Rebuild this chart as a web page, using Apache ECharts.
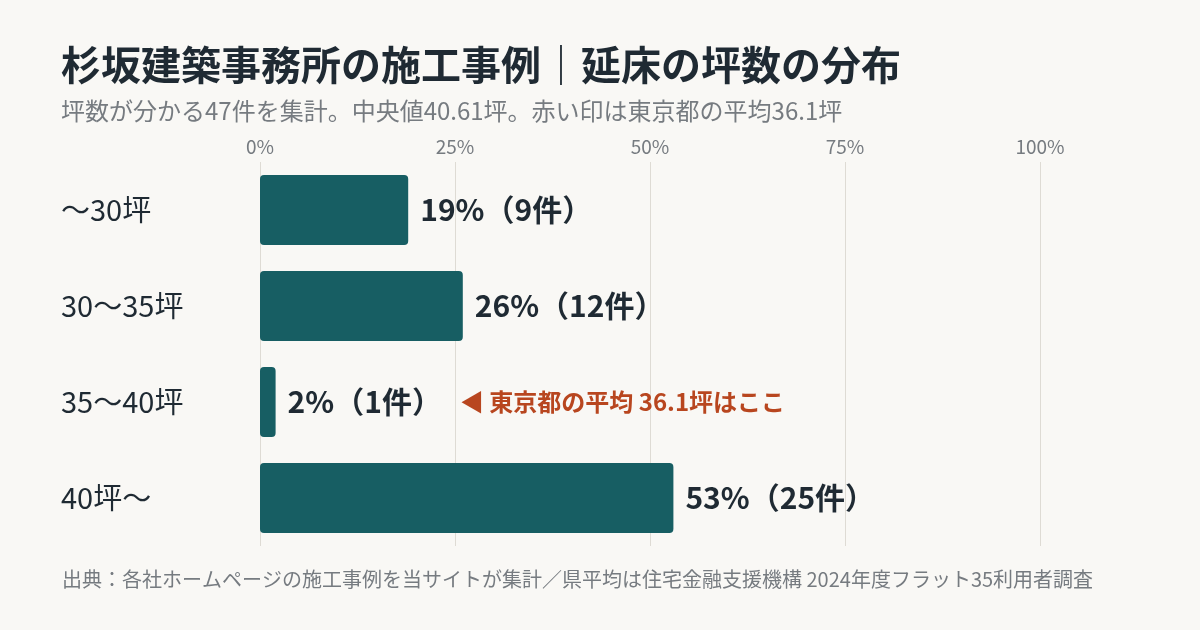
<!DOCTYPE html>
<html>
<head>
<meta charset="utf-8">
<script src="https://cdn.jsdelivr.net/npm/echarts@6/dist/echarts.min.js"></script>
<style>
  html, body { margin: 0; padding: 0; background: #f9f8f5; }
  #chart { width: 1200px; height: 630px; }
</style>
</head>
<body>
<div id="chart"></div>
<script>
/* ---------------- データ ---------------- */
const categories = ['〜30坪', '30〜35坪', '35〜40坪', '40坪〜'];
const percents   = [19, 26, 2, 53];          // 割合（%）
const counts     = [9, 12, 1, 25];           // 件数
const axisTicks  = [0, 25, 50, 75, 100];
const tokyoAvg   = 36.1;                     // 東京都の平均（坪）
const tokyoRow   = '35〜40坪';

const FONT = '"Noto Sans CJK JP", "Noto Sans", sans-serif';

let chart = echarts.init(document.getElementById('chart'));

chart.setOption({
    backgroundColor: '#f9f8f5',
    textStyle: { fontFamily: FONT },
    title: {
        text: '杉坂建築事務所の施工事例｜延床の坪数の分布',
        subtext: '坪数が分かる47件を集計。中央値40.61坪。赤い印は東京都の平均' + tokyoAvg + '坪',
        left: 56,
        top: 40,
        itemGap: 14,
        textStyle: { fontFamily: FONT, fontSize: 40, fontWeight: 'bold', color: '#1f2a33' },
        subtextStyle: { fontFamily: FONT, fontSize: 24, color: '#767b80' }
    },
    grid: { left: 260, right: 160, top: 162, bottom: 84 },
    xAxis: {
        type: 'value',
        position: 'top',
        min: axisTicks[0],
        max: axisTicks[axisTicks.length - 1],
        interval: 25,
        axisLine: { show: false },
        axisTick: { show: false },
        axisLabel: { formatter: '{value}%', fontSize: 19, color: '#767b80', margin: 6, fontFamily: FONT },
        splitLine: { lineStyle: { color: '#dedbd4', width: 1 } }
    },
    yAxis: {
        type: 'category',
        inverse: true,
        data: categories,
        axisLine: { show: false },
        axisTick: { show: false },
        axisLabel: { align: 'left', margin: 199, fontSize: 29, color: '#1f2a33', fontFamily: FONT }
    },
    series: [{
        type: 'bar',
        data: percents,
        barWidth: 70,
        itemStyle: { color: '#175e63', borderRadius: 4 },
        label: {
            show: true,
            position: 'right',
            distance: 12,
            fontFamily: FONT,
            formatter: function (p) {
                let s = '{v|' + percents[p.dataIndex] + '%（' + counts[p.dataIndex] + '件）}';
                if (categories[p.dataIndex] === tokyoRow) {
                    s += '{n|◀ 東京都の平均 ' + tokyoAvg + '坪はここ}';
                }
                return s;
            },
            rich: {
                v: { fontFamily: FONT, fontSize: 30, fontWeight: 'bold', color: '#1f2a33' },
                n: { fontFamily: FONT, fontSize: 24, fontWeight: 'bold', color: '#b8461f', padding: [0, 0, 0, 18] }
            }
        }
    }],
    graphic: [{
        type: 'text',
        left: 62,
        top: 569,
        style: {
            text: '出典：各社ホームページの施工事例を当サイトが集計／県平均は住宅金融支援機構 2024年度フラット35利用者調査',
            font: '20px ' + FONT,
            fill: '#767b80'
        }
    }]
});
</script>
</body>
</html>
